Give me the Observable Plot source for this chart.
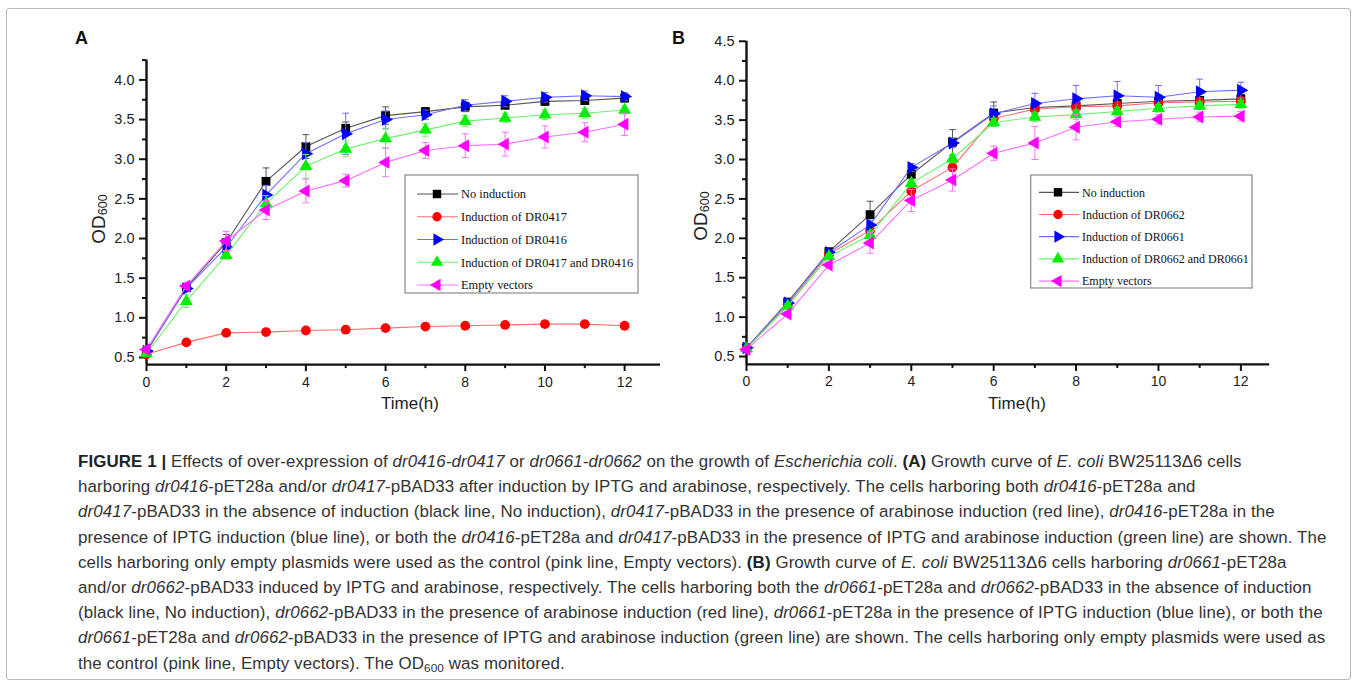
<!DOCTYPE html>
<html><head><meta charset="utf-8">
<script src="https://cdn.jsdelivr.net/npm/d3@7"></script>
<script src="https://cdn.jsdelivr.net/npm/@observablehq/plot@0.6"></script>
<style>
body{margin:0;background:#fff;}
#page{position:relative;width:1358px;height:685px;overflow:hidden;font-family:"Liberation Sans",Arial,sans-serif;background:#fff;}
#frame{position:absolute;left:6px;top:8px;width:1345px;height:672px;border:1px solid #b8b8b8;border-radius:3px;box-sizing:border-box;}
.panel{position:absolute;}
.plabel{position:absolute;font-weight:bold;font-size:18px;line-height:18px;color:#111;}
#caption{position:absolute;left:78px;top:449px;font-size:16.9px;letter-spacing:0.1px;line-height:25.2px;color:#333;white-space:nowrap;}
#caption b{color:#222;}
</style></head><body>
<div id="page">
  <div id="frame"></div>
  <div class="plabel" style="left:75px;top:29px">A</div>
  <div class="plabel" style="left:672px;top:29px">B</div>
  <div class="panel" id="pa" style="left:60px;top:20px"></div>
  <div class="panel" id="pb" style="left:660px;top:20px"></div>
  <div id="caption"></div>
</div>
<script>
// ---------------- data ----------------
const time = [0,1,2,3,4,5,6,7,8,9,10,11,12];

const namesA = ["No induction","Induction of DR0417","Induction of DR0416","Induction of DR0417 and DR0416","Empty vectors"];
const A_noInduction = [0.57,1.38,1.95,2.72,3.16,3.39,3.55,3.60,3.66,3.68,3.73,3.74,3.77];
const A_dr0417      = [0.54,0.69,0.81,0.82,0.84,0.85,0.87,0.89,0.90,0.91,0.92,0.92,0.90];
const A_dr0416      = [0.58,1.37,1.89,2.55,3.07,3.32,3.50,3.56,3.68,3.73,3.78,3.80,3.79];
const A_both        = [0.55,1.21,1.79,2.44,2.91,3.13,3.26,3.37,3.48,3.52,3.56,3.58,3.62];
const A_empty       = [0.60,1.40,1.97,2.36,2.60,2.73,2.96,3.11,3.17,3.19,3.28,3.34,3.44];
const A_err_noInduction = [0.02,0.03,0.10,0.17,0.15,0.08,0.11,0.05,0.06,0.04,0.05,0.04,0.04];
const A_err_dr0417      = [0.01,0.02,0.02,0.02,0.02,0.02,0.02,0.02,0.02,0.02,0.04,0.02,0.02];
const A_err_dr0416      = [0.03,0.04,0.06,0.12,0.14,0.26,0.11,0.06,0.07,0.07,0.06,0.06,0.05];
const A_err_both        = [0.02,0.08,0.05,0.10,0.15,0.10,0.12,0.08,0.07,0.06,0.06,0.06,0.05];
const A_err_empty       = [0.03,0.04,0.12,0.12,0.15,0.08,0.18,0.10,0.15,0.15,0.14,0.12,0.14];

const namesB = ["No induction","Induction of DR0662","Induction of DR0661","Induction of DR0662 and DR0661","Empty vectors"];
const B_noInduction = [0.61,1.19,1.83,2.30,2.81,3.22,3.59,3.66,3.68,3.71,3.74,3.75,3.77];
const B_dr0662      = [0.60,1.16,1.80,2.10,2.60,2.90,3.52,3.64,3.67,3.68,3.72,3.73,3.74];
const B_dr0661      = [0.61,1.18,1.82,2.17,2.90,3.21,3.58,3.71,3.77,3.81,3.79,3.86,3.88];
const B_both        = [0.60,1.14,1.77,2.04,2.70,3.01,3.47,3.54,3.57,3.61,3.65,3.68,3.70];
const B_empty       = [0.59,1.04,1.66,1.94,2.48,2.74,3.08,3.21,3.41,3.48,3.51,3.54,3.55];
const B_err_noInduction = [0.02,0.03,0.03,0.17,0.10,0.16,0.14,0.08,0.07,0.08,0.08,0.10,0.06];
const B_err_dr0662      = [0.02,0.03,0.03,0.05,0.05,0.05,0.05,0.05,0.05,0.05,0.05,0.05,0.05];
const B_err_dr0661      = [0.02,0.03,0.03,0.06,0.05,0.06,0.10,0.13,0.17,0.18,0.15,0.16,0.10];
const B_err_both        = [0.02,0.03,0.03,0.05,0.05,0.05,0.05,0.06,0.06,0.05,0.05,0.05,0.05];
const B_err_empty       = [0.02,0.03,0.04,0.13,0.14,0.14,0.09,0.21,0.16,0.06,0.06,0.06,0.06];

const xTicks = [0,2,4,6,8,10,12];
const xTickLabels = ["0","2","4","6","8","10","12"];
const xMinor = [1,3,5,7,9,11];
const yTicksA = [0.5,1.0,1.5,2.0,2.5,3.0,3.5,4.0];
const yTickLabelsA = ["0.5","1.0","1.5","2.0","2.5","3.0","3.5","4.0"];
const yMinorA = [0.75,1.25,1.75,2.25,2.75,3.25,3.75,4.25];
const yTicksB = [0.5,1.0,1.5,2.0,2.5,3.0,3.5,4.0,4.5];
const yTickLabelsB = ["0.5","1.0","1.5","2.0","2.5","3.0","3.5","4.0","4.5"];
const yMinorB = [0.75,1.25,1.75,2.25,2.75,3.25,3.75,4.25];

const markerColors = ["#000000","#ff0000","#0000ff","#00ee00","#ff00ff"];
const lineColors   = ["#555555","#ff6f6f","#6f6fff","#6cf06c","#ff6fff"];

// ---------------- symbols ----------------
const sqrt3 = Math.sqrt(3);
const triRight = {draw(c, size){ const y = -Math.sqrt(size/(sqrt3*3)); c.moveTo(-2*y,0); c.lineTo(y,-sqrt3*y); c.lineTo(y,sqrt3*y); c.closePath(); }};
const triLeft  = {draw(c, size){ const y = -Math.sqrt(size/(sqrt3*3)); c.moveTo(2*y,0); c.lineTo(-y,sqrt3*y); c.lineTo(-y,-sqrt3*y); c.closePath(); }};
const capSym   = {draw(c, size){ const w = Math.sqrt(size/Math.PI); c.moveTo(-w,0); c.lineTo(w,0); }};
const symbols = ["square","circle",triRight,"triangle",triLeft];
const radii = [5.0,4.9,4.8,4.8,4.8];
const d3Symbols = [d3.symbolSquare, d3.symbolCircle, triRight, d3.symbolTriangle, triLeft];

function panel(cfg){
  const marks = [];
  marks.push(Plot.ruleY([cfg.yDomain[0]], {stroke:"#111", strokeWidth:2.4}));
  marks.push(Plot.ruleX([cfg.xDomain[0]], {stroke:"#111", strokeWidth:2.4}));
  marks.push(Plot.axisX(cfg.xTicks, {tickSize:7, tickPadding:5, strokeWidth:2, stroke:"#111", fontSize:14, fill:"#222", label:null, tickFormat:(d)=>cfg.xTickLabels[cfg.xTicks.indexOf(d)]}));
  marks.push(Plot.axisX(cfg.xMinor, {tickSize:4, strokeWidth:2, stroke:"#111", label:null, tickFormat:()=>""}));
  marks.push(Plot.axisY(cfg.yTicks, {tickSize:7, tickPadding:5, strokeWidth:2, stroke:"#111", fontSize:14.5, fill:"#222", label:null, tickFormat:(d)=>cfg.yTickLabels[cfg.yTicks.indexOf(d)]}));
  marks.push(Plot.axisY(cfg.yMinor, {tickSize:4, strokeWidth:2, stroke:"#111", label:null, tickFormat:()=>""}));
  cfg.series.forEach((vals, i) => {
    const errs = cfg.errors[i];
    const data = time.map((t, j) => ({t, v: vals[j], lo: vals[j]-errs[j], hi: vals[j]+errs[j]}));
    marks.push(Plot.ruleX(data, {x:"t", y1:"lo", y2:"hi", stroke:lineColors[i], strokeWidth:1}));
    marks.push(Plot.dot(data, {x:"t", y:"lo", symbol:capSym, r:3.4, stroke:lineColors[i], fill:"none", strokeWidth:1}));
    marks.push(Plot.dot(data, {x:"t", y:"hi", symbol:capSym, r:3.4, stroke:lineColors[i], fill:"none", strokeWidth:1}));
    marks.push(Plot.line(data, {x:"t", y:"v", stroke:lineColors[i], strokeWidth:1.1}));
    marks.push(Plot.dot(data, {x:"t", y:"v", symbol:symbols[i], r:radii[i], fill:markerColors[i], stroke:"none"}));
  });
  const svg = Plot.plot({
    width: cfg.width, height: cfg.height,
    marginLeft: cfg.ml, marginRight: cfg.mr, marginTop: cfg.mt, marginBottom: cfg.mb,
    x: {domain: cfg.xDomain, axis: null},
    y: {domain: cfg.yDomain, axis: null},
    style: {fontFamily: '"Liberation Sans", Arial, sans-serif', fontSize: "14px", background: "transparent", overflow: "visible", color:"#111"},
    marks
  });
  const s = d3.select(svg);
  // y label
  const yl = s.append("text").attr("transform", `translate(${cfg.ylx},${cfg.yly}) rotate(-90)`)
    .attr("text-anchor","middle").attr("fill","#222").attr("font-size",19);
  yl.append("tspan").text("OD");
  yl.append("tspan").attr("font-size",12.5).attr("dy",2).text("600");
  // x label
  s.append("text").attr("x",cfg.xlx).attr("y",cfg.xly).attr("text-anchor","middle")
    .attr("fill","#222").attr("font-size",17).text("Time(h)");
  // legend
  const L = cfg.legend;
  const g = s.append("g").attr("text-anchor","start");
  g.append("rect").attr("x",L.x).attr("y",L.y).attr("width",L.w).attr("height",L.h)
    .attr("fill","white").attr("stroke","#8a8a8a").attr("stroke-width",1.2);
  cfg.names.forEach((name, i) => {
    const yy = L.y0 + i*L.dy;
    g.append("line").attr("x1",L.lx1).attr("x2",L.lx2).attr("y1",yy).attr("y2",yy)
      .attr("stroke",lineColors[i]).attr("stroke-width",1.2);
    const sz = radii[i]*radii[i]*Math.PI*0.9;
    g.append("path").attr("transform",`translate(${L.mx},${yy})`)
      .attr("d", d3.symbol(d3Symbols[i], sz)()).attr("fill",markerColors[i]);
    g.append("text").attr("x",L.tx).attr("y",yy).attr("dy","0.35em").attr("text-anchor","start")
      .attr("font-family",'"Liberation Serif","Times New Roman",serif').attr("font-size",L.fs)
      .attr("fill","#111").text(name);
  });
  return svg;
}

document.getElementById("pa").appendChild(panel({
  width:620, height:400, ml:86, mr:20, mt:39.6, mb:55.9,
  xDomain:[0,12.9], yDomain:[0.41,4.25],
  xTicks, xTickLabels, xMinor, yTicks:yTicksA, yTickLabels:yTickLabelsA, yMinor:yMinorA,
  series:[A_noInduction,A_dr0417,A_dr0416,A_both,A_empty],
  errors:[A_err_noInduction,A_err_dr0417,A_err_dr0416,A_err_both,A_err_empty],
  names:namesA,
  ylx:45, yly:199, xlx:350, xly:389,
  legend:{x:345,y:155,w:233,h:118,y0:174,dy:22.75,lx1:357,lx2:398,mx:377,tx:401,fs:12.4}
}));

document.getElementById("pb").appendChild(panel({
  width:630, height:400, ml:86, mr:20.8, mt:20.8, mb:56.1,
  xDomain:[0,12.7], yDomain:[0.4,4.5],
  xTicks, xTickLabels, xMinor, yTicks:yTicksB, yTickLabels:yTickLabelsB, yMinor:yMinorB,
  series:[B_noInduction,B_dr0662,B_dr0661,B_both,B_empty],
  errors:[B_err_noInduction,B_err_dr0662,B_err_dr0661,B_err_both,B_err_empty],
  names:namesB,
  ylx:47, yly:196, xlx:357, xly:389,
  legend:{x:370.7,y:155,w:221.3,h:113,y0:172.3,dy:22.2,lx1:379,lx2:419,mx:398,tx:422,fs:12}
}));

// ---------------- caption ----------------
const captionLines = [
  '<b>FIGURE 1 |</b> Effects of over-expression of <i>dr0416-dr0417</i> or <i>dr0661-dr0662</i> on the growth of <i>Escherichia coli</i>. <b>(A)</b> Growth curve of <i>E. coli</i> BW25113Δ6 cells',
  'harboring <i>dr0416</i>-pET28a and/or <i>dr0417</i>-pBAD33 after induction by IPTG and arabinose, respectively. The cells harboring both <i>dr0416</i>-pET28a and',
  '<i>dr0417</i>-pBAD33 in the absence of induction (black line, No induction), <i>dr0417</i>-pBAD33 in the presence of arabinose induction (red line), <i>dr0416</i>-pET28a in the',
  'presence of IPTG induction (blue line), or both the <i>dr0416</i>-pET28a and <i>dr0417</i>-pBAD33 in the presence of IPTG and arabinose induction (green line) are shown. The',
  'cells harboring only empty plasmids were used as the control (pink line, Empty vectors). <b>(B)</b> Growth curve of <i>E. coli</i> BW25113Δ6 cells harboring <i>dr0661</i>-pET28a',
  'and/or <i>dr0662</i>-pBAD33 induced by IPTG and arabinose, respectively. The cells harboring both the <i>dr0661</i>-pET28a and <i>dr0662</i>-pBAD33 in the absence of induction',
  '(black line, No induction), <i>dr0662</i>-pBAD33 in the presence of arabinose induction (red line), <i>dr0661</i>-pET28a in the presence of IPTG induction (blue line), or both the',
  '<i>dr0661</i>-pET28a and <i>dr0662</i>-pBAD33 in the presence of IPTG and arabinose induction (green line) are shown. The cells harboring only empty plasmids were used as',
  'the control (pink line, Empty vectors). The OD<sub style="font-size:0.7em;vertical-align:-0.25em;line-height:0">600</sub> was monitored.'
];
document.getElementById("caption").innerHTML = captionLines.map(l => `<div>${l}</div>`).join("");
</script>
</body></html>
